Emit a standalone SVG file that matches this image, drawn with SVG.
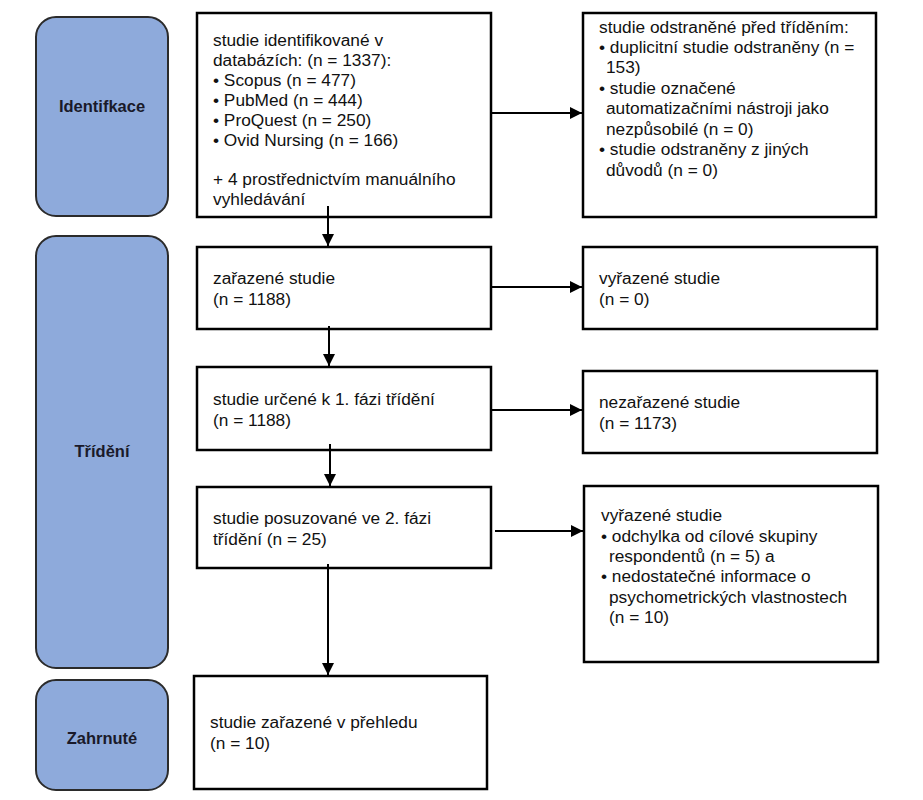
<svg xmlns="http://www.w3.org/2000/svg" width="923" height="800" viewBox="0 0 923 800">
<style>
.phase{fill:#8eaadb;stroke:#2b2b2b;stroke-width:2}
.plabel{font-family:"Liberation Sans",Arial,sans-serif;font-size:16.5px;font-weight:bold;fill:#1a1a2a;text-anchor:middle}
.box{fill:#fff;stroke:#000;stroke-width:2.5}
.t{font-family:"Liberation Sans",Arial,sans-serif;font-size:17.3px;fill:#111}
.conn{stroke:#000;stroke-width:2;fill:none;marker-end:url(#ah)}
</style>
<defs>
<marker id="ah" markerUnits="userSpaceOnUse" markerWidth="12" markerHeight="12" refX="12" refY="6" orient="auto">
<path d="M0,0 L12,6 L0,12 z" fill="#000"/>
</marker>
</defs>
<rect width="923" height="800" fill="#fff"/>

<g id="phase-identifikace">
<rect class="phase" x="36" y="17" width="132" height="199" rx="20"/>
<text class="plabel" x="102" y="112">Identifkace</text>
</g>
<g id="phase-trideni">
<rect class="phase" x="36" y="236" width="132" height="432" rx="20"/>
<text class="plabel" x="102" y="457">Třídění</text>
</g>
<g id="phase-zahrnute">
<rect class="phase" x="36" y="680" width="132" height="110" rx="20"/>
<text class="plabel" x="102" y="744">Zahrnuté</text>
</g>

<g id="node-identified">
<rect class="box" x="197" y="13" width="294" height="204"/>
<text class="t">
<tspan x="213" y="46">studie identifikované v</tspan>
<tspan x="213" y="66">databázích: (n = 1337):</tspan>
<tspan x="213" y="86">• Scopus (n = 477)</tspan>
<tspan x="213" y="106">• PubMed (n = 444)</tspan>
<tspan x="213" y="126">• ProQuest (n = 250)</tspan>
<tspan x="213" y="146">• Ovid Nursing (n = 166)</tspan>
<tspan x="213" y="185">+ 4 prostřednictvím manuálního</tspan>
<tspan x="213" y="205">vyhledávání</tspan>
</text>
</g>

<g id="node-removed">
<rect class="box" x="583" y="13" width="293" height="204"/>
<text class="t">
<tspan x="599" y="33">studie odstraněné před tříděním:</tspan>
<tspan x="599" y="53">• duplicitní studie odstraněny (n =</tspan>
<tspan x="606" y="73">153)</tspan>
<tspan x="599" y="94">• studie označené</tspan>
<tspan x="606" y="114">automatizačními nástroji jako</tspan>
<tspan x="606" y="135">nezpůsobilé (n = 0)</tspan>
<tspan x="599" y="155">• studie odstraněny z jiných</tspan>
<tspan x="606" y="176">důvodů (n = 0)</tspan>
</text>
</g>

<g id="node-included">
<rect class="box" x="197" y="247" width="294" height="82"/>
<text class="t">
<tspan x="213" y="284">zařazené studie</tspan>
<tspan x="213" y="305">(n = 1188)</tspan>
</text>
</g>

<g id="node-excluded0">
<rect class="box" x="583" y="247" width="294" height="82"/>
<text class="t">
<tspan x="599" y="284">vyřazené studie</tspan>
<tspan x="599" y="305">(n = 0)</tspan>
</text>
</g>

<g id="node-phase1">
<rect class="box" x="197" y="367" width="294" height="83"/>
<text class="t">
<tspan x="213" y="405">studie určené k 1. fázi třídění</tspan>
<tspan x="213" y="426">(n = 1188)</tspan>
</text>
</g>

<g id="node-notincluded">
<rect class="box" x="583" y="371" width="294" height="82"/>
<text class="t">
<tspan x="599" y="408">nezařazené studie</tspan>
<tspan x="599" y="429">(n = 1173)</tspan>
</text>
</g>

<g id="node-phase2">
<rect class="box" x="197" y="487" width="294" height="81"/>
<text class="t">
<tspan x="213" y="524">studie posuzované ve 2. fázi</tspan>
<tspan x="213" y="545">třídění (n = 25)</tspan>
</text>
</g>

<g id="node-excluded-reasons">
<rect class="box" x="584" y="486" width="294" height="176"/>
<text class="t">
<tspan x="601" y="521">vyřazené studie</tspan>
<tspan x="601" y="542">• odchylka od cílové skupiny</tspan>
<tspan x="609" y="562">respondentů (n = 5) a</tspan>
<tspan x="601" y="582">• nedostatečné informace o</tspan>
<tspan x="609" y="603">psychometrických vlastnostech</tspan>
<tspan x="609" y="623">(n = 10)</tspan>
</text>
</g>

<g id="node-final">
<rect class="box" x="194" y="676" width="293" height="113"/>
<text class="t">
<tspan x="210" y="728">studie zařazené v přehledu</tspan>
<tspan x="210" y="749">(n = 10)</tspan>
</text>
</g>

<g id="connectors">
<line class="conn" x1="491" y1="113" x2="582" y2="113"/>
<line class="conn" x1="328" y1="206" x2="328" y2="246"/>
<line class="conn" x1="491" y1="287" x2="582" y2="287"/>
<line class="conn" x1="329" y1="326" x2="329" y2="366"/>
<line class="conn" x1="491" y1="410" x2="582" y2="410"/>
<line class="conn" x1="330" y1="444" x2="330" y2="486"/>
<line class="conn" x1="495" y1="531" x2="583" y2="531"/>
<line class="conn" x1="328" y1="564" x2="328" y2="675"/>
</g>
</svg>
